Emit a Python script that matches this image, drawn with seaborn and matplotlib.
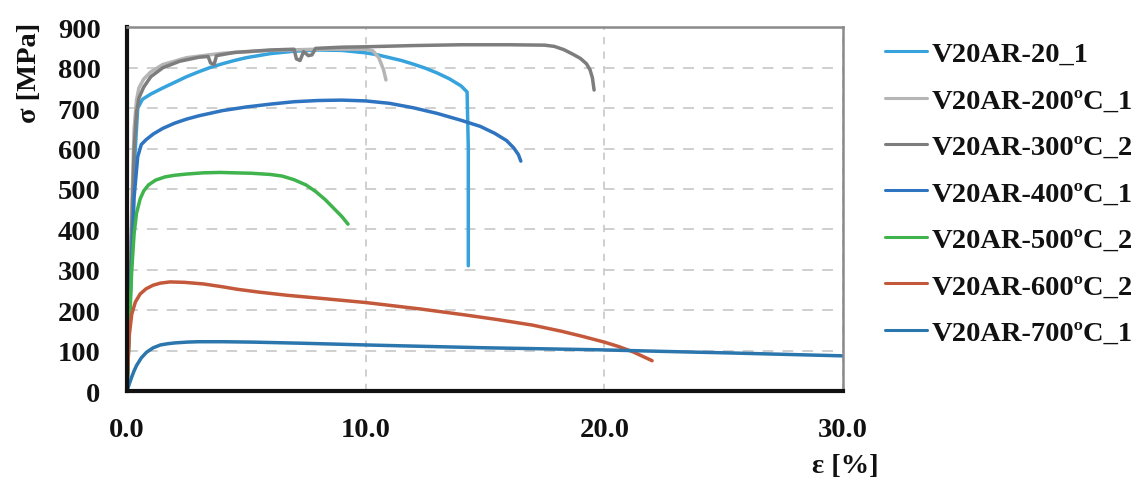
import matplotlib
matplotlib.use("Agg")
import matplotlib.pyplot as plt
import pandas as pd
import seaborn as sns

# Specimen names and line colours
specimens = ["V20AR-20_1", "V20AR-200ºC_1", "V20AR-300ºC_2", "V20AR-400ºC_1",
             "V20AR-500ºC_2", "V20AR-600ºC_2", "V20AR-700ºC_1"]
colors = ["#36a3dc", "#b5b5b5", "#7d7d7d", "#2e74c0", "#3fb34c", "#c4583a", "#2a76ad"]

# Engineering stress-strain curves (strain in %, stress in MPa)
strain_20 = [0, 0.25, 0.45, 0.65, 1.0, 1.5, 2.0, 2.5, 3.0, 3.5, 4.0, 4.5, 5.0, 6.0,
             7.0, 8.0, 9.0, 10.0, 10.5, 11.0, 11.5, 12.0, 12.5, 13.0, 13.5, 14.0,
             14.25, 14.3, 14.3]
stress_20 = [0, 500, 700, 722, 735, 750, 764, 778, 790, 801, 810, 818, 825, 835,
             841, 844, 843, 837, 832, 825, 818, 809, 799, 787, 773, 755,
             740, 600, 310]

strain_200 = [0, 0.2, 0.3, 0.4, 0.5, 0.7, 1.0, 1.5, 2.5, 4.0, 6.0, 8.0, 10.0, 10.3,
              10.55, 10.75, 10.85]
stress_200 = [0, 450, 650, 720, 750, 772, 790, 808, 825, 836, 843, 846, 846, 842,
              825, 795, 770]

strain_300 = [0, 0.2, 0.3, 0.4, 0.5, 0.7, 1.0, 1.5, 2.2, 3.0, 3.4, 3.5, 3.65, 3.75,
              4.5, 6.0, 7.0, 7.1, 7.25, 7.4, 7.6, 7.75, 7.9, 9.0, 10.0, 12.0, 14.0,
              16.0, 17.5, 17.9, 18.3, 18.7, 19.0, 19.25, 19.4, 19.5, 19.57]
stress_300 = [0, 400, 600, 690, 725, 752, 778, 800, 816, 826, 828, 812, 808, 830,
              838, 844, 846, 822, 818, 840, 830, 832, 848, 851, 852, 855, 857,
              857, 856, 853, 845, 833, 823, 810, 795, 775, 745]

strain_400 = [0, 0.15, 0.3, 0.45, 0.6, 0.8, 1.1, 1.5, 2.0, 2.5, 3.0, 4.0, 5.0, 6.0,
              7.0, 8.0, 9.0, 10.0, 11.0, 12.0, 13.0, 14.0, 14.8, 15.4, 15.9, 16.2,
              16.4, 16.5]
stress_400 = [0, 250, 480, 580, 610, 622, 636, 650, 663, 673, 681, 694, 703, 710,
              716, 719, 720, 718, 712, 701, 687, 670, 655, 638, 620, 602,
              585, 569]

strain_500 = [0, 0.1, 0.2, 0.3, 0.4, 0.55, 0.7, 0.9, 1.2, 1.6, 2.0, 2.5, 3.2, 3.9,
              4.5, 5.2, 6.0, 6.5, 7.0, 7.5, 7.9, 8.3, 8.7, 9.0, 9.26]
stress_500 = [0, 150, 300, 390, 440, 475, 495, 510, 522, 530, 534, 537, 540, 541,
              540, 539, 536, 532, 523, 510, 494, 474, 450, 432, 413]

strain_600 = [0, 0.05, 0.1, 0.2, 0.35, 0.55, 0.8, 1.1, 1.4, 1.8, 2.4, 3.2, 4.0, 4.6,
              5.5, 6.7, 8.0, 10.0, 12.3, 14.2, 15.5, 17.0, 18.2, 19.1, 20.0, 20.6,
              21.2, 21.6, 22.0]
stress_600 = [0, 80, 140, 190, 220, 240, 253, 262, 267, 270, 269, 265, 258, 252,
              245, 237, 230, 219, 203, 188, 177, 163, 148, 135, 121, 110,
              97, 86, 75]

strain_700 = [0, 0.1, 0.2, 0.3, 0.4, 0.6, 0.82, 1.1, 1.4, 1.7, 2.0, 2.5, 3.0, 4.0,
              5.3, 7.5, 10.0, 11.4, 15.0, 19.8, 22.5, 25.4, 30.0]
stress_700 = [0, 18, 35, 50, 63, 82, 96, 107, 114, 117, 119, 121, 122, 122,
              121, 118, 114, 112, 107, 102, 98, 94, 87]

curves = [
    (strain_20, stress_20), (strain_200, stress_200), (strain_300, stress_300),
    (strain_400, stress_400), (strain_500, stress_500), (strain_600, stress_600),
    (strain_700, stress_700),
]

y_ticks = [0, 100, 200, 300, 400, 500, 600, 700, 800, 900]
x_ticks = [0.0, 10.0, 20.0, 30.0]
x_tick_labels = ["0.0", "10.0", "20.0", "30.0"]

frames = []
for name, (eps, sig) in zip(specimens, curves):
    frames.append(pd.DataFrame({"strain": eps, "stress": sig, "specimen": name}))
df = pd.concat(frames, ignore_index=True)

sns.set_theme(style="white")
plt.rcParams["font.family"] = ["Liberation Serif", "DejaVu Serif"]
plt.rcParams["font.weight"] = "bold"
plt.rcParams["text.color"] = "#111111"
plt.rcParams["xtick.color"] = "#111111"
plt.rcParams["ytick.color"] = "#111111"

fig = plt.figure(figsize=(11.47, 4.81), dpi=100)
ax = fig.add_axes([0.1107, 0.185, 0.6243, 0.756])

sns.lineplot(data=df, x="strain", y="stress", hue="specimen", hue_order=specimens,
             palette=dict(zip(specimens, colors)), sort=False, estimator=None,
             linewidth=2.5, ax=ax)

ax.set_xlim(0, 30)
ax.set_ylim(0, 900)
ax.set_xticks(x_ticks)
ax.set_xticklabels(x_tick_labels)
ax.set_yticks(y_ticks)
ax.tick_params(axis="both", length=0, labelsize=20.5, pad=19, labelcolor="#111111")
for lab in ax.get_xticklabels() + ax.get_yticklabels():
    lab.set_fontweight("bold")
ax.set_xlabel("")
ax.set_ylabel("")

ax.yaxis.grid(True, color="#cccccc", linestyle=(0, (6, 5)), linewidth=1.3)
ax.xaxis.grid(True, color="#cccccc", linestyle=(0, (4, 4)), linewidth=1.3)
ax.set_axisbelow(True)

for side in ("left", "bottom"):
    ax.spines[side].set_color("#111111")
    ax.spines[side].set_linewidth(3.0)
for side in ("top", "right"):
    ax.spines[side].set_color("#8a8a8a")
    ax.spines[side].set_linewidth(1.8)

sns.move_legend(ax, "upper left", bbox_to_anchor=(1.058, 0.962), frameon=False,
                title=None, fontsize=20.5, handlelength=1.5, handletextpad=0.15,
                labelspacing=0.72, borderpad=0, borderaxespad=0)
for txt in ax.get_legend().get_texts():
    txt.set_fontweight("bold")
    txt.set_color("#111111")
for line in ax.get_legend().get_lines():
    line.set_linewidth(2.2)

fig.text(0.026, 0.848, "σ [MPa]", rotation=90, ha="center", va="center",
         fontsize=20.5, fontweight="bold")
fig.text(0.737, 0.03, "ε [%]", ha="center", va="center",
         fontsize=20.5, fontweight="bold")

fig.savefig("out.png", dpi=100, facecolor="white")
